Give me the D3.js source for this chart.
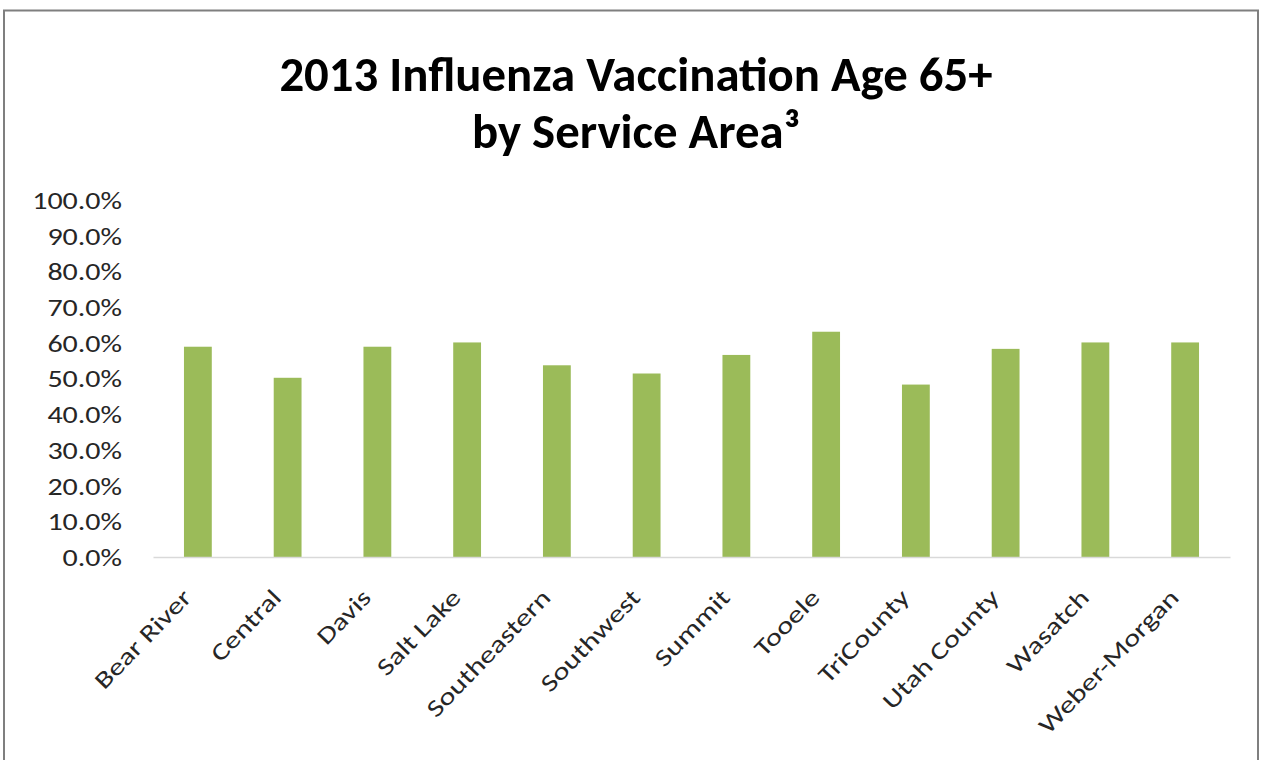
<!DOCTYPE html>
<html>
<head>
<meta charset="utf-8">
<script src="https://cdn.jsdelivr.net/npm/d3@7"></script>
<style>
  html, body { margin: 0; padding: 0; background: #fff; }
  svg { display: block; }
  text { font-family: Carlito, Calibri, "Open Sans", sans-serif; }
</style>
</head>
<body>
<svg id="chart" width="1261" height="760"></svg>
<script>
const categories = ["Bear River", "Central", "Davis", "Salt Lake", "Southeastern", "Southwest",
  "Summit", "Tooele", "TriCounty", "Utah County", "Wasatch", "Weber-Morgan"];
const values = [0.589, 0.502, 0.589, 0.601, 0.537, 0.514, 0.566, 0.631, 0.483, 0.583, 0.601, 0.601];
const yTicks = [0, 0.1, 0.2, 0.3, 0.4, 0.5, 0.6, 0.7, 0.8, 0.9, 1.0];
const titleLines = ["2013 Influenza Vaccination Age 65+", "by Service Area³"];

const svg = d3.select("#chart");
const W = 1261, H = 760;
const FONT = 'Carlito, Calibri, "Open Sans", sans-serif';

svg.append("rect").attr("x", 0).attr("y", 0).attr("width", W).attr("height", H).attr("fill", "#fff");
svg.append("rect").attr("x", 4).attr("y", 10.5).attr("width", 1254).attr("height", 800)
  .attr("fill", "#fff").attr("stroke", "#7f7f7f").attr("stroke-width", 2);

const plot = { left: 153, right: 1230, top: 200, bottom: 557 };

const x = d3.scaleBand().domain(categories).range([plot.left, plot.right]).paddingInner(0.69).paddingOuter(0.345);
const y = d3.scaleLinear().domain([0, 1]).range([plot.bottom, plot.top]);

// Title
svg.append("g").selectAll("text").data(titleLines).join("text")
  .attr("x", 636).attr("y", (d, i) => 91 + i * 57)
  .attr("text-anchor", "middle")
  .attr("font-size", 48.8).attr("font-weight", "bold").attr("fill", "#000")
  .text(d => d);

// Y axis labels
const yAxis = d3.axisLeft(y).tickValues(yTicks).tickFormat(d3.format(".1%")).tickSize(0).tickPadding(0);
const gy = svg.append("g").attr("transform", "translate(122,0)").call(yAxis);
gy.select(".domain").remove();
gy.selectAll(".tick text")
  .attr("font-size", 24).attr("fill", "#262626").attr("font-family", FONT)
  .attr("x", 0).attr("dy", "0.35em")
  .attr("transform", "scale(1.25,1)");

// Bars
svg.append("g").selectAll("rect").data(categories).join("rect")
  .attr("x", d => x(d)).attr("width", x.bandwidth())
  .attr("y", (d, i) => y(values[i]))
  .attr("height", (d, i) => y(0) - y(values[i]))
  .attr("fill", "#9bbb59");

// X axis
const xAxis = d3.axisBottom(x).tickSize(0).tickSizeOuter(0).tickPadding(0);
const gx = svg.append("g").attr("transform", `translate(0,${plot.bottom})`).call(xAxis);
gx.select(".domain").attr("stroke", "#d9d9d9").attr("stroke-width", 1.5);
gx.selectAll(".tick text")
  .attr("font-size", 24).attr("fill", "#262626").attr("font-family", FONT)
  .attr("text-anchor", "end")
  .attr("transform", "translate(-11,36) rotate(-46) scale(1.28,1)")
  .attr("dy", "0.35em").attr("y", 0).attr("x", 0);
</script>
</body>
</html>
